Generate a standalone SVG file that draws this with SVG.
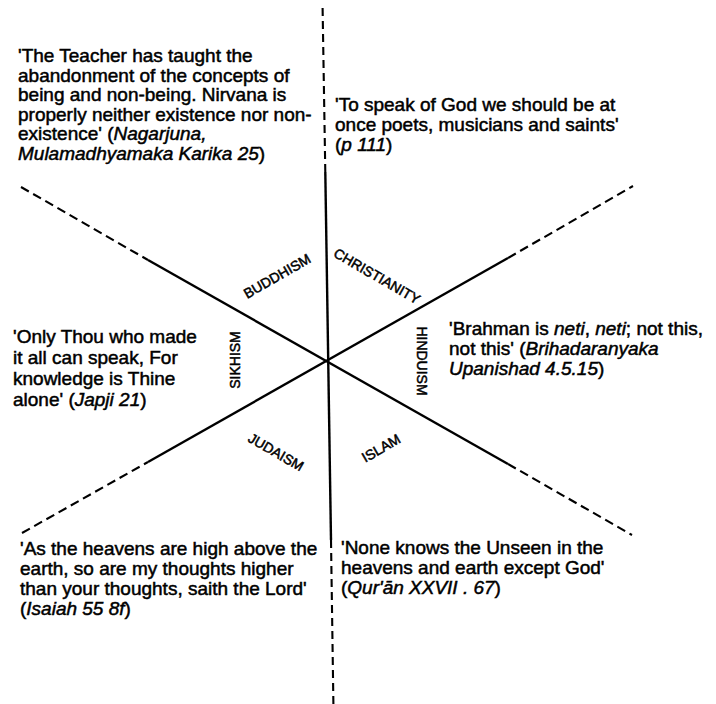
<svg xmlns="http://www.w3.org/2000/svg" width="716" height="704" viewBox="0 0 716 704">
<style>
.q{font-family:"Liberation Sans",Arial,sans-serif;font-size:19px;fill:#000;stroke:#000;stroke-width:0.5}
.i{font-style:italic}
.lb{font-family:"Liberation Sans",Arial,sans-serif;font-size:14px;fill:#000;stroke:#000;stroke-width:0.5;text-anchor:middle}
.s{stroke:#000;stroke-width:2.4;fill:none}
.d{stroke:#000;stroke-width:2.1;fill:none;stroke-dasharray:9 5}
.dv{stroke:#000;stroke-width:2.1;fill:none;stroke-dasharray:8 5}
</style>
<rect width="716" height="704" fill="#fff"/>
<g id="connectors">
<line class="dv" x1="322.6" y1="8" x2="325.3" y2="172"/>
<line class="s" x1="325.3" y1="172" x2="331.0" y2="540"/>
<line class="dv" x1="331.0" y1="540" x2="333.4" y2="704"/>
<line class="d" x1="21" y1="187" x2="148" y2="260"/>
<line class="s" x1="148" y1="260" x2="508" y2="464"/>
<line class="d" x1="508" y1="464" x2="632" y2="535"/>
<line class="d" x1="22" y1="533" x2="148" y2="462"/>
<line class="s" x1="148" y1="462" x2="508" y2="258"/>
<line class="d" x1="508" y1="258" x2="633" y2="186"/>
</g>
<g id="buddhism">
<text class="lb" transform="translate(277,276) rotate(-30)" y="5">BUDDHISM</text>
<text class="q"><tspan x="18" y="62">'The Teacher has taught the</tspan><tspan x="18" y="81.5">abandonment of the concepts of</tspan><tspan x="18" y="101">being and non-being. Nirvana is</tspan><tspan x="18" y="120.5">properly neither existence nor non-</tspan><tspan x="18" y="140">existence' (<tspan class="i">Nagarjuna,</tspan></tspan><tspan x="18" y="159.5" class="i">Mulamadhyamaka Karika 25</tspan><tspan>)</tspan></text>
</g>
<g id="christianity">
<text class="lb" transform="translate(377,276) rotate(30)" y="5">CHRISTIANITY</text>
<text class="q"><tspan x="335" y="111">'To speak of God we should be at</tspan><tspan x="335" y="131">once poets, musicians and saints'</tspan><tspan x="335" y="151">(<tspan class="i">p 111</tspan>)</tspan></text>
</g>
<g id="hinduism">
<text class="lb" transform="translate(422,361) rotate(90)" y="5">HINDUISM</text>
<text class="q"><tspan x="449" y="335">'Brahman is <tspan class="i">neti</tspan>, <tspan class="i">neti</tspan>; not this,</tspan><tspan x="449" y="355">not this' (<tspan class="i">Brihadaranyaka</tspan></tspan><tspan x="449" y="375"><tspan class="i">Upanishad 4.5.15</tspan>)</tspan></text>
</g>
<g id="islam">
<text class="lb" transform="translate(381,448) rotate(-30)" y="5">ISLAM</text>
<text class="q"><tspan x="341" y="554">'None knows the Unseen in the</tspan><tspan x="341" y="574">heavens and earth except God'</tspan><tspan x="341" y="594">(<tspan class="i">Qur'ān XXVII . 67</tspan>)</tspan></text>
</g>
<g id="judaism">
<text class="lb" transform="translate(276,452) rotate(30)" y="5">JUDAISM</text>
<text class="q"><tspan x="20" y="555">'As the heavens are high above the</tspan><tspan x="20" y="575">earth, so are my thoughts higher</tspan><tspan x="20" y="595">than your thoughts, saith the Lord'</tspan><tspan x="20" y="615">(<tspan class="i">Isaiah 55 8f</tspan>)</tspan></text>
</g>
<g id="sikhism">
<text class="lb" transform="translate(235,360) rotate(-90)" y="5">SIKHISM</text>
<text class="q"><tspan x="13" y="343">'Only Thou who made</tspan><tspan x="13" y="364">it all can speak, For</tspan><tspan x="13" y="385">knowledge is Thine</tspan><tspan x="13" y="406">alone' (<tspan class="i">Japji 21</tspan>)</tspan></text>
</g>
</svg>
